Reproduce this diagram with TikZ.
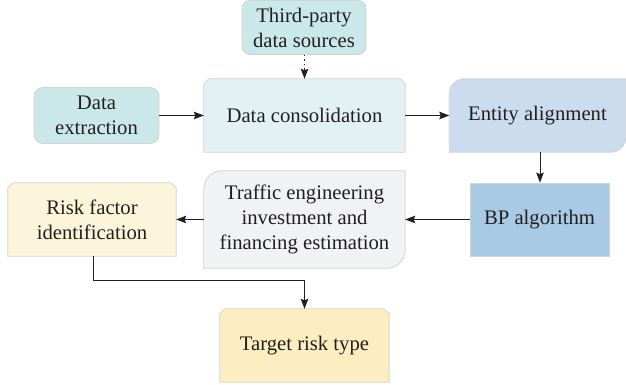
\documentclass[tikz,border=0pt]{standalone}
\usepackage{fontspec}
\setmainfont{Liberation Serif}
\usetikzlibrary{arrows.meta,backgrounds,calc}
\definecolor{txt}{HTML}{231F20}
\definecolor{bord}{HTML}{D2D2D2}
\definecolor{cteal}{HTML}{CAE8EA}
\definecolor{ccons}{HTML}{E2F2F3}
\definecolor{cent}{HTML}{CBDCEE}
\definecolor{cbp}{HTML}{A8CAE5}
\definecolor{ctraf}{HTML}{F1F2F4}
\definecolor{crisk}{HTML}{FDF5DB}
\definecolor{ctarget}{HTML}{FCEEC0}
\newcommand\chamfshape[2]{%
  \draw[shapeline, fill=#2] (#1.south west) -- ([yshift=-5pt]#1.north west) -- ([xshift=5pt]#1.north west)
    -- ([xshift=-5pt]#1.north east) -- ([yshift=-5pt]#1.north east) -- (#1.south east) -- cycle;}
\newcommand\leafshape[3]{%
  \draw[shapeline, fill=#2] (#1.south west) -- ([yshift=-#3]#1.north west)
    arc[start angle=180, end angle=90, radius=#3] -- (#1.north east)
    -- ([yshift=#3]#1.south east) arc[start angle=0, end angle=-90, radius=#3] -- cycle;}
\begin{document}
\begin{tikzpicture}[x=1pt, y=1pt,
  font=\fontsize{20.7}{25}\selectfont,
  box/.style={inner sep=0pt, align=center, text=txt},
  shapeline/.style={draw=bord, line width=0.8pt},
  arr/.style={draw=txt, line width=1pt, -{Stealth[length=10pt, width=7.5pt, inset=1.5pt]}}]
\useasboundingbox (0,0) rectangle (626,385);

\node[box, shapeline, fill=cteal, rounded corners=8pt, minimum width=124pt, minimum height=54pt] (third) at (304,357.5) {Third-party\\data sources};
\node[box, shapeline, fill=cteal, rounded corners=9pt, minimum width=125pt, minimum height=56pt] (extr) at (96.5,269.5) {Data\\extraction};
\node[box, minimum width=201pt, minimum height=73pt] (cons) at (304.5,269.5) {Data consolidation};
\node[box, minimum width=176pt, minimum height=73pt] (ent) at (537.5,269.5) {Entity alignment};
\node[box, shapeline, fill=cbp, minimum width=139pt, minimum height=73pt] (bp) at (539.5,165.5) {BP algorithm};
\node[box, minimum width=201pt, minimum height=97pt] (traf) at (304.5,165.5) {Traffic engineering\\investment and\\financing estimation};
\node[box, minimum width=168pt, minimum height=73pt] (risk) at (92,165.5) {Risk factor\\identification};
\node[box, minimum width=169pt, minimum height=73pt] (target) at (304.5,39.5) {Target risk type};

\begin{pgfonlayer}{background}
  \chamfshape{cons}{ccons}
  \chamfshape{risk}{crisk}
  \chamfshape{target}{ctarget}
  \leafshape{ent}{cent}{15pt}
  \leafshape{traf}{ctraf}{18pt}
\end{pgfonlayer}

\draw[arr, dash pattern=on 1.5pt off 3pt] (third.south -| cons.north) -- (cons.north);
\draw[arr] (extr) -- (cons);
\draw[arr] (cons) -- (ent);
\draw[arr] (ent.south -| 540,0) -- (bp.north -| 540,0);
\draw[arr] (bp) -- (traf);
\draw[arr] (traf) -- (risk);
\draw[arr] (risk.south -| 93,0) -- ++(0,-24) -| (target.north);
\end{tikzpicture}
\end{document}
